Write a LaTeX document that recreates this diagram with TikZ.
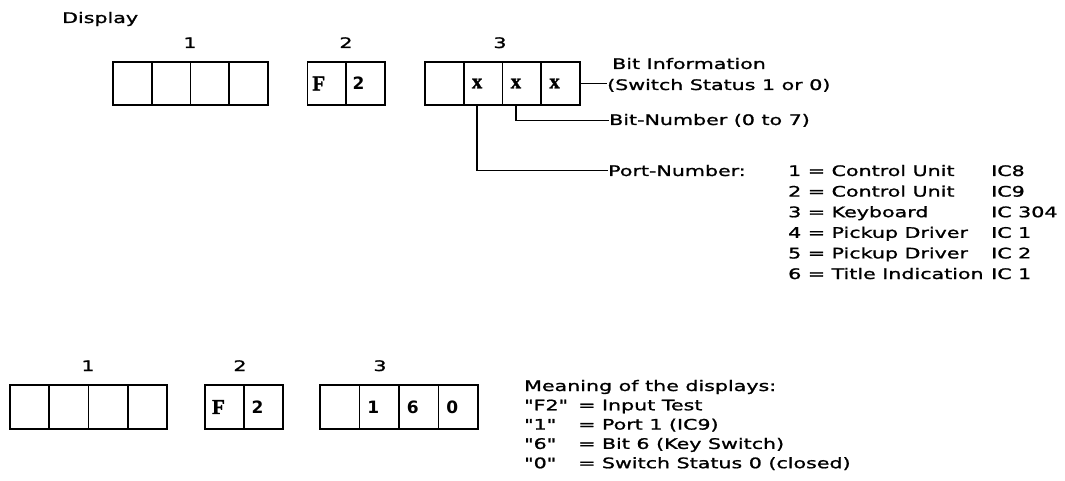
\documentclass[tikz,border=0pt]{standalone}
\usepackage{fontspec}
\newfontfamily\dfont{DejaVu Sans}[FakeStretch=1.42, FakeBold=1.2]
\newfontfamily\boxserif{Liberation Serif}[FakeBold=1.5]
\newfontfamily\boxsans{DejaVu Sans}
\newcommand{\txtsize}{\fontsize{14.5}{17}\selectfont}
\tikzset{
 topcell/.style={draw, line width=1.7pt, minimum width=38.75pt, minimum height=43pt, inner sep=0pt},
 botcell/.style={draw, line width=1.7pt, minimum width=39.3pt, minimum height=44pt, inner sep=0pt},
 txt/.style={inner sep=0pt, anchor=base west, font=\dfont\txtsize},
 numlbl/.style={inner sep=0pt, anchor=base, font=\dfont\txtsize},
 serifch/.style={inner sep=0pt, font=\boxserif\bfseries\fontsize{21}{21}\selectfont},
 sansch/.style={inner sep=0pt, font=\boxsans\bfseries\fontsize{17}{17}\selectfont},
 conn/.style={line width=1.6pt},
}
\begin{document}
\begin{tikzpicture}[x=1pt,y=-1pt]
\useasboundingbox (0,0) rectangle (1065,481);
% ---------- top ----------
\node[txt] (disp) at (62,23) {Display};
\node[numlbl] (tl1) at (190,48) {1};
\node[numlbl] (tl2) at (346,48) {2};
\node[numlbl] (tl3) at (500,48) {3};
% group 1
\node[topcell] (t1c1) at (132.4,83.5) {};
\node[topcell] (t1c2) at (171.1,83.5) {};
\node[topcell] (t1c3) at (209.9,83.5) {};
\node[topcell] (t1c4) at (248.6,83.5) {};
% group 2
\node[topcell] (t2c1) at (326.8,83.5) {};
\node[topcell] (t2c2) at (365.6,83.5) {};
\node[serifch] (t2f) at ([xshift=-8pt]t2c1.center) {F};
\node[sansch] (t2two) at ([xshift=-7pt]t2c2.center) {2};
% group 3
\node[topcell] (t3c1) at (444.4,83.5) {};
\node[topcell] (t3c2) at (483.1,83.5) {};
\node[topcell] (t3c3) at (521.9,83.5) {};
\node[topcell] (t3c4) at (560.6,83.5) {};
\node[serifch] (t3x2) at ([xshift=-6pt]t3c2.center) {x};
\node[serifch] (t3x3) at ([xshift=-6pt]t3c3.center) {x};
\node[serifch] (t3x4) at ([xshift=-6pt]t3c4.center) {x};
% annotations
\node[txt] (bitinfo) at (612,69) {Bit Information};
\node[txt] (swstat) at (607,90) {(Switch Status 1 or 0)};
\node[txt] (bitnum) at (609,125) {Bit-Number (0 to 7)};
\node[txt] (portnum) at (608,176) {Port-Number:};
\draw[conn] (t3c4.east) -- (swstat.west |- t3c4.east);
\draw[conn] ([xshift=-6pt]t3c3.south) |- (bitnum.west);
\draw[conn] ([xshift=-6pt]t3c2.south) |- (portnum.west);
% port list
\node[txt] (p1) at (788,176) {1 = Control Unit};
\node[txt] (p2) at (788,196.6) {2 = Control Unit};
\node[txt] (p3) at (788,217.2) {3 = Keyboard};
\node[txt] (p4) at (788,237.8) {4 = Pickup Driver};
\node[txt] (p5) at (788,258.4) {5 = Pickup Driver};
\node[txt] (p6) at (788,279) {6 = Title Indication};
\node[txt] (ic1) at (991,176) {IC8};
\node[txt] (ic2) at (991,196.6) {IC9};
\node[txt] (ic3) at (991,217.2) {IC 304};
\node[txt] (ic4) at (991,237.8) {IC 1};
\node[txt] (ic5) at (991,258.4) {IC 2};
\node[txt] (ic6) at (991,279) {IC 1};
% ---------- bottom ----------
\node[numlbl] (bl1) at (88,371) {1};
\node[numlbl] (bl2) at (240,371) {2};
\node[numlbl] (bl3) at (380,371) {3};
\node[botcell] (b1c1) at (29.6,407) {};
\node[botcell] (b1c2) at (68.9,407) {};
\node[botcell] (b1c3) at (108.1,407) {};
\node[botcell] (b1c4) at (147.4,407) {};
\node[botcell] (b2c1) at (224.5,407) {};
\node[botcell] (b2c2) at (263.6,407) {};
\node[serifch] (b2f) at ([xshift=-6pt]b2c1.center) {F};
\node[sansch] (b2two) at ([xshift=-6pt]b2c2.center) {2};
\node[botcell] (b3c1) at (339.7,407) {};
\node[botcell] (b3c2) at (379.2,407) {};
\node[botcell] (b3c3) at (418.7,407) {};
\node[botcell] (b3c4) at (458.2,407) {};
\node[sansch] (b3one) at ([xshift=-6pt]b3c2.center) {1};
\node[sansch] (b3six) at ([xshift=-6pt]b3c3.center) {6};
\node[sansch] (b3zero) at ([xshift=-6pt]b3c4.center) {0};
% meaning
\node[txt] (mtitle) at (524,391) {Meaning of the displays:};
\node[txt] (mq1) at (524,410.3) {"F2"};
\node[txt] (mq2) at (524,429.6) {"1"};
\node[txt] (mq3) at (524,448.9) {"6"};
\node[txt] (mq4) at (524,468.2) {"0"};
\node[txt] (mt1) at (578,410.3) {= Input Test};
\node[txt] (mt2) at (578,429.6) {= Port 1 (IC9)};
\node[txt] (mt3) at (578,448.9) {= Bit 6 (Key Switch)};
\node[txt] (mt4) at (578,468.2) {= Switch Status 0 (closed)};
\end{tikzpicture}
\end{document}
